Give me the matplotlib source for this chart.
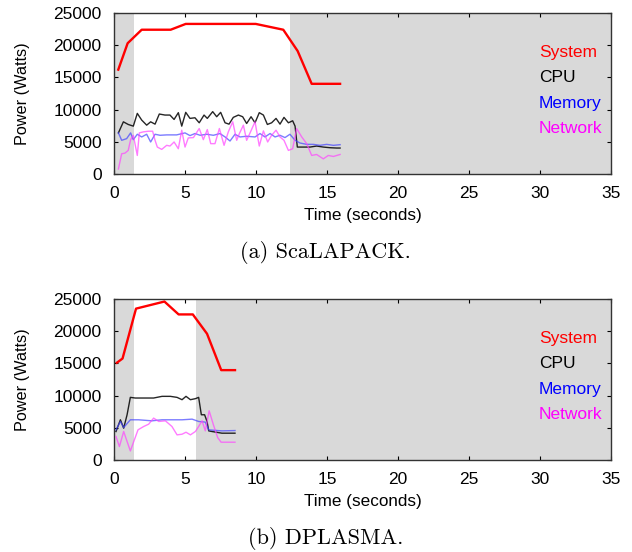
import numpy as np
import matplotlib.pyplot as plt

# (a) ScaLAPACK
a_sys_t = [0.3, 0.96, 1.95, 3.99, 5.05, 9.98, 11.92, 12.93, 13.92, 15.92]
a_sys = [16200, 20300, 22400, 22400, 23300, 23300, 22400, 19100, 14000, 14000]

a_cpu_t = [0.31, 0.66, 1.0, 1.36, 1.64, 1.95, 2.3, 2.58, 2.89, 3.19, 3.59, 3.94,
           4.23, 4.53, 4.77, 5.05, 5.35, 5.7, 6.0, 6.34, 6.57, 6.95, 7.23, 7.51,
           7.82, 8.1, 8.4, 8.76, 9.06, 9.34, 9.65, 9.93, 10.23, 10.52, 10.8,
           11.1, 11.41, 11.69, 11.97, 12.28, 12.58, 12.75, 12.91, 13.33, 13.8,
           14.27, 14.74, 15.21, 15.68, 15.92]
a_cpu = [6380, 8100, 7690, 7430, 9410, 8370, 7580, 8100, 7740, 9310, 9150, 9150,
         8470, 9520, 7430, 9570, 8630, 8730, 7950, 9150, 8630, 9680, 8890, 9570,
         7950, 7740, 8790, 9150, 8890, 7840, 8890, 7950, 9520, 9150, 7690,
         7950, 8630, 7740, 8790, 7950, 8260, 7430, 4180, 4180, 4180,
         4340, 4180, 4080, 4030, 4030]

a_mem_t = [0.31, 0.54, 0.89, 1.17, 1.36, 1.64, 1.95, 2.3, 2.58, 2.89, 3.24, 3.71,
           4.41, 5.0, 5.35, 5.7, 6.06, 6.53, 7.0, 7.46, 7.82, 8.17, 8.52, 8.87,
           9.34, 9.93, 10.28, 10.63, 10.99, 11.34, 11.69, 12.04, 12.39, 12.75,
           13.1, 13.57, 14.04, 14.5, 14.98, 15.45, 15.92]
a_mem = [6380, 5230, 5490, 6380, 5330, 6170, 5750, 6170, 4970, 6170, 6010, 6070,
         6070, 6380, 5960, 6280, 6010, 6170, 6010, 6280, 5750, 5120, 6170, 5750,
         5860, 5750, 6280, 5750, 6280, 5750, 6010, 5650, 6170, 5230,
         4810, 4600, 4600, 4450, 4600, 4450, 4550]

a_net_t = [0.31, 0.54, 0.77, 1.0, 1.17, 1.36, 1.64, 1.78, 2.07, 2.42, 2.72, 2.89,
           3.05, 3.36, 3.71, 3.94, 4.23, 4.53, 4.77, 5.0, 5.23, 5.59, 6.0, 6.29,
           6.57, 6.81, 7.11, 7.42, 7.75, 8.05, 8.36, 8.64, 8.83, 9.11, 9.34,
           9.58, 9.93, 10.23, 10.52, 10.82, 11.1, 11.41, 11.69, 11.97, 12.28,
           12.58, 12.86, 13.22, 13.57, 13.92, 14.27, 14.74, 15.09, 15.45, 15.92]
a_net = [780, 3140, 3240, 3660, 5330, 6010, 2880, 6380, 6540, 6640, 6640, 5230,
         4180, 3820, 4450, 4340, 4970, 3920, 6800, 4180, 5600, 5650, 7060, 5330,
         6900, 4710, 4710, 7060, 4450, 6540, 8110, 5230, 6280, 7580, 5230,
         6380, 8110, 4340, 6690, 4970, 6010, 6800, 5750, 5230, 3660,
         3920, 7060, 5750, 4710, 2880, 3030, 2350, 2880, 2720, 3030]

# (b) DPLASMA
b_sys_t = [0.2, 0.6, 1.55, 3.55, 4.55, 5.55, 6.55, 7.55, 8.52]
b_sys = [15100, 15750, 23500, 24600, 22600, 22600, 19600, 13950, 13950]

b_cpu_t = [0.14, 0.45, 0.68, 0.92, 1.15, 1.5, 2.2, 2.79, 3.38, 3.97, 4.44, 4.79,
           5.07, 5.38, 5.73, 5.96, 6.15, 6.38, 6.55, 6.67, 6.9, 7.6, 8.52]
b_cpu = [4420, 6240, 4940, 7020, 9720, 9620, 9620, 9620, 9880, 9880, 9720, 9360,
         9880, 9360, 9520, 9720, 7020, 7020, 5980, 4520, 4420, 4160, 4160]

b_mem_t = [0.14, 0.45, 0.68, 1.15, 1.73, 2.67, 3.38, 4.08, 4.79, 5.5, 5.96, 6.43,
           6.67, 7.6, 8.52]
b_mem = [4680, 5980, 5040, 6240, 6240, 6080, 6240, 6240, 6240, 6340, 5980, 5880,
         4680, 4520, 4570]

b_net_t = [0.14, 0.38, 0.68, 1.15, 1.69, 2.09, 2.44, 2.79, 3.15, 3.62, 4.08, 4.44,
           4.79, 5.07, 5.38, 5.73, 5.96, 6.2, 6.43, 6.7, 7.0, 7.3, 7.54, 8.52]
b_net = [3640, 2080, 4420, 1400, 4680, 5200, 5560, 6500, 5980, 6080, 5200, 3900,
         4000, 4310, 3900, 4420, 5200, 6080, 4520, 7640, 5460, 3480, 2760, 2760]

# white (busy) window of each run, rest is shaded
a_busy = (1.4, 12.4)
b_busy = (1.4, 5.77)

names = ['System', 'CPU', 'Memory', 'Network']
text_colors = ['#ff0000', '#000000', '#0000ff', '#ff00ff']

plt.rcParams['font.family'] = ['Liberation Sans', 'DejaVu Sans']

fig = plt.figure(figsize=(6.32, 5.52), dpi=100)
ax1 = fig.add_axes([0.1804, 0.6848, 0.7864, 0.2917])
ax2 = fig.add_axes([0.1804, 0.1667, 0.7864, 0.2917])


def draw(ax, busy, sys_t, sys_v, cpu_t, cpu_v, mem_t, mem_v, net_t, net_v):
    ax.axvspan(0, busy[0], color='#d9d9d9', lw=0, zorder=0)
    ax.axvspan(busy[1], 35, color='#d9d9d9', lw=0, zorder=0)
    ax.plot(sys_t, sys_v, color='#ff0000', lw=1.7, zorder=3)
    ax.plot(cpu_t, cpu_v, color='#000000', lw=1.0, alpha=0.85, zorder=3)
    ax.plot(mem_t, mem_v, color='#4444ff', lw=1.0, alpha=0.7, zorder=3)
    ax.plot(net_t, net_v, color='#ff44ff', lw=1.0, alpha=0.7, zorder=3)
    ax.set_xlim(0, 35)
    ax.set_ylim(0, 25000)
    ax.set_xticks(np.arange(0, 36, 5))
    ax.set_yticks(np.arange(0, 25001, 5000))
    ax.tick_params(direction='in', length=3, top=True, right=True,
                   labelsize=12.5, width=0.8, pad=9)
    for s in ax.spines.values():
        s.set_color('#333333')
        s.set_linewidth(1.0)
    ax.set_xlabel('Time (seconds)', fontsize=12.3, labelpad=5)
    ax.set_ylabel('Power (Watts)', fontsize=11.7, labelpad=17)
    for i, (n, c) in enumerate(zip(names, text_colors)):
        ax.text(0.855, 0.757 - i * 0.159, n, color=c, fontsize=12.5,
                transform=ax.transAxes, va='center', ha='left')


draw(ax1, a_busy, a_sys_t, a_sys, a_cpu_t, a_cpu, a_mem_t, a_mem, a_net_t, a_net)
draw(ax2, b_busy, b_sys_t, b_sys, b_cpu_t, b_cpu, b_mem_t, b_mem, b_net_t, b_net)

fig.text(0.515, 1 - 252 / 552, '(a) ScaLAPACK.', family='cmr10', fontsize=16,
         ha='center', va='center')
fig.text(0.515, 1 - 538 / 552, '(b) DPLASMA.', family='cmr10', fontsize=16,
         ha='center', va='center')

fig.savefig('out.png', dpi=100)
